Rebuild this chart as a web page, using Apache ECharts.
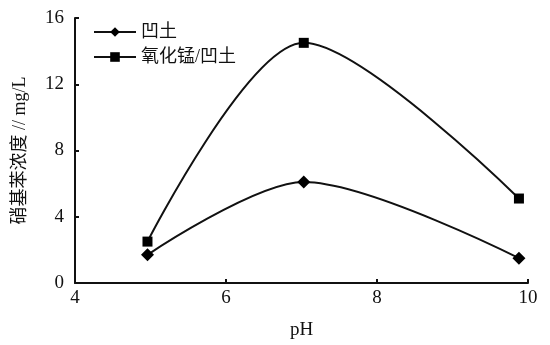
<!DOCTYPE html>
<html><head><meta charset="utf-8">
<script src="https://cdn.jsdelivr.net/npm/echarts@6/dist/echarts.min.js"></script>
<style>html,body{margin:0;padding:0;background:#fff}#c{width:550px;height:345px}</style>
</head><body><div id="c"></div>
<script>
var pH = [4.96, 7.03, 9.88];
var seriesNames = ['凹土', '氧化锰/凹土'];
var clayValues = [1.7, 6.1, 1.5];
var mnoxValues = [2.5, 14.5, 5.1];
var xTicks = [4, 6, 8, 10];
var yTicks = [0, 4, 8, 12, 16];

function pairs(xs, ys){ return xs.map(function(x,i){ return [x, ys[i]]; }); }
var serif = "Liberation Serif";
var mixed = "'Liberation Serif', 'Noto Sans CJK SC'";
var chart = echarts.init(document.getElementById('c'));
chart.setOption({
  animation:false,
  backgroundColor:'#fff',
  grid:{left:75,right:22,top:18,bottom:62, outerBoundsMode:'none'},
  legend:{
    left:88, top:18, orient:'vertical', itemGap:7, itemWidth:42, itemHeight:12,
    textStyle:{fontFamily:mixed, fontSize:18, color:'#111'},
    data:seriesNames
  },
  xAxis:{
    type:'value', min:xTicks[0], max:xTicks[xTicks.length-1], interval:2,
    name:'pH', nameLocation:'middle', nameGap:38,
    nameTextStyle:{fontFamily:serif, fontSize:19, color:'#111'},
    axisLine:{lineStyle:{color:'#111', width:2}},
    axisTick:{inside:true, length:4, lineStyle:{color:'#111', width:2}},
    axisLabel:{fontFamily:serif, fontSize:19, color:'#111', margin:6},
    splitLine:{show:false}
  },
  yAxis:{
    type:'value', min:yTicks[0], max:yTicks[yTicks.length-1], interval:4,
    name:'硝基苯浓度 // mg/L', nameLocation:'middle', nameGap:46, nameRotate:90,
    nameTextStyle:{fontFamily:mixed, fontSize:18, color:'#111'},
    axisLine:{show:true, lineStyle:{color:'#111', width:2}},
    axisTick:{show:true, inside:true, length:4, lineStyle:{color:'#111', width:2}},
    axisLabel:{fontFamily:serif, fontSize:19, color:'#111', margin:11},
    splitLine:{show:false}
  },
  series:[
    {name:seriesNames[0], type:'line', smooth:0.3, data:pairs(pH, clayValues),
     symbol:'diamond', symbolSize:13, itemStyle:{color:'#000'},
     lineStyle:{color:'#111', width:2}},
    {name:seriesNames[1], type:'line', smooth:0.3, data:pairs(pH, mnoxValues),
     symbol:'rect', symbolSize:10, itemStyle:{color:'#000'},
     lineStyle:{color:'#111', width:2}}
  ]
});
</script></body></html>
